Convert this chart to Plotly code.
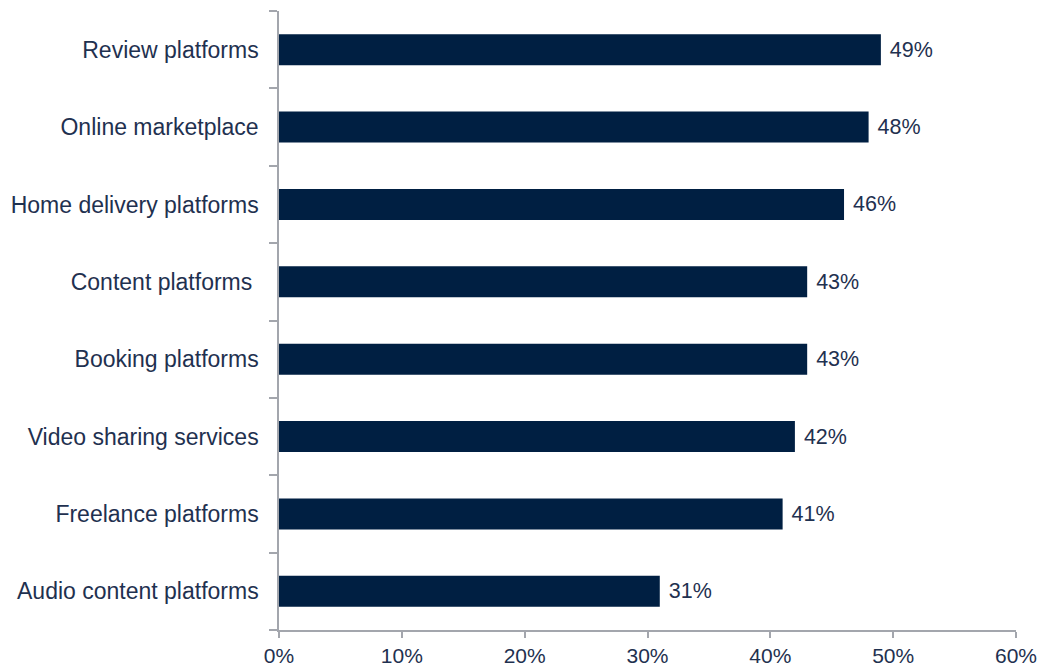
import plotly.graph_objects as go

# Share of respondents per platform type (top to bottom)
categories = [
    "Review platforms",
    "Online marketplace",
    "Home delivery platforms",
    "Content platforms\u00a0",
    "Booking platforms",
    "Video sharing services",
    "Freelance platforms",
    "Audio content platforms",
]
values = [49, 48, 46, 43, 43, 42, 41, 31]
x_ticks = [0, 10, 20, 30, 40, 50, 60]
x_tick_labels = [f"{v}%" for v in x_ticks]

navy = "#001f42"
text_color = "#1f3150"
axis_color = "#a3a6ad"
font_family = "Liberation Sans, Arial, sans-serif"

fig = go.Figure(
    go.Bar(
        x=values,
        y=categories,
        orientation="h",
        marker=dict(color=navy, line=dict(width=0)),
        width=0.4,
        # leading non-breaking space keeps the value a little away from the bar end
        text=[f"\u00a0{v}%" for v in values],
        textposition="outside",
        textfont=dict(family=font_family, size=21.5, color=text_color),
        cliponaxis=False,
        hoverinfo="skip",
    )
)

fig.update_layout(
    width=1052,
    height=670,
    margin=dict(l=279, r=36, t=11, b=40, autoexpand=False),
    paper_bgcolor="white",
    plot_bgcolor="white",
    showlegend=False,
    font=dict(family=font_family, size=21, color=text_color),
    uniformtext=dict(mode=None),
)

fig.update_xaxes(
    range=[0, 60],
    tickvals=x_ticks,
    ticktext=x_tick_labels,
    showgrid=False,
    zeroline=False,
    showline=True,
    linecolor=axis_color,
    linewidth=1.5,
    ticks="outside",
    ticklen=6,
    tickcolor=axis_color,
    tickwidth=1.5,
    ticklabelstandoff=0,
    tickfont=dict(family=font_family, size=21, color=text_color),
    automargin=False,
    fixedrange=True,
)

fig.update_yaxes(
    categoryorder="array",
    categoryarray=categories[::-1],
    range=[-0.5, len(categories) - 0.5],
    showgrid=False,
    zeroline=False,
    showline=True,
    linecolor=axis_color,
    linewidth=1.5,
    ticks="outside",
    tickson="boundaries",
    ticklen=8,
    tickcolor=axis_color,
    tickwidth=1.5,
    ticklabelstandoff=14,
    tickfont=dict(family=font_family, size=23, color=text_color),
    automargin=False,
    fixedrange=True,
)

fig.write_html("out.html")
